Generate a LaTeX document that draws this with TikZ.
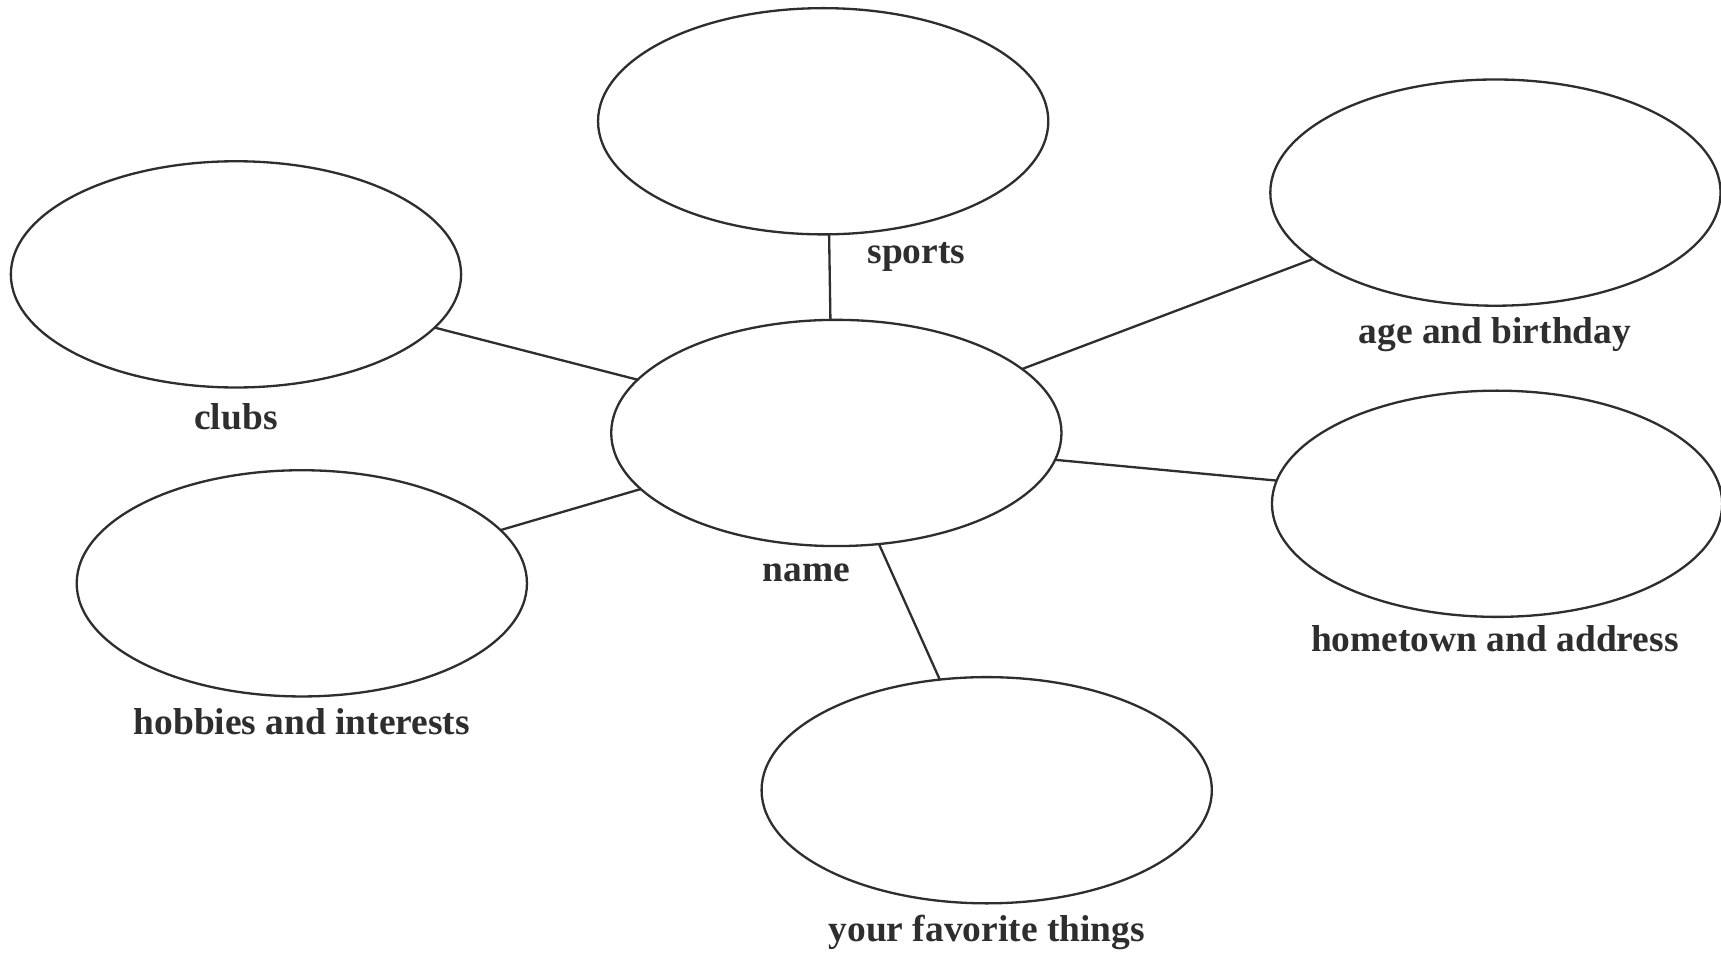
\documentclass[tikz,border=0pt]{standalone}
\usepackage{fontspec}
\setmainfont{Liberation Serif}
\usetikzlibrary{shapes.geometric}
\definecolor{ink}{HTML}{2E2E2E}
\begin{document}
\begin{tikzpicture}[x=0.01cm,y=-0.01cm,
  bubble/.style={draw=ink, line width=0.6pt, ellipse, minimum width=4.10cm, minimum height=2.06cm, inner sep=0pt, outer sep=0pt},
  link/.style={draw=ink, line width=0.6pt},
  lbl/.style={text=ink, font=\fontsize{9.7}{11}\selectfont\bfseries, anchor=base, inner sep=0pt}]
\useasboundingbox (0,0) rectangle (1568,871);
\node[bubble] (name) at (762,394.5) {};
\node[bubble] (sports) at (750,110.5) {};
\node[bubble] (age) at (1362.5,175.5) {};
\node[bubble] (clubs) at (215,250) {};
\node[bubble] (home) at (1364,459) {};
\node[bubble] (hobbies) at (275,531.5) {};
\node[bubble] (fav) at (899,720) {};
\draw[link] (sports.273.3) -- (name.93.3);
\draw[link] (clubs.345.3) -- (name.165.5);
\draw[link] (age.200.7) -- (name.19.8);
\draw[link] (home.174) -- (name.353.6);
\draw[link] (hobbies.15.1) -- (name.196.5);
\draw[link] (fav.113.5) -- (name.291.8);
\node[lbl] (tsports) at (835,240) {sports};
\node[lbl] (tage) at (1362,312.6) {age and birthday};
\node[lbl] (tclubs) at (215,391.7) {clubs};
\node[lbl] (tname) at (734.5,530) {name};
\node[lbl] (thome) at (1362,594) {hometown and address};
\node[lbl] (thobbies) at (275,669.5) {hobbies and interests};
\node[lbl] (tfav) at (899,858) {your favorite things};
\end{tikzpicture}
\end{document}
